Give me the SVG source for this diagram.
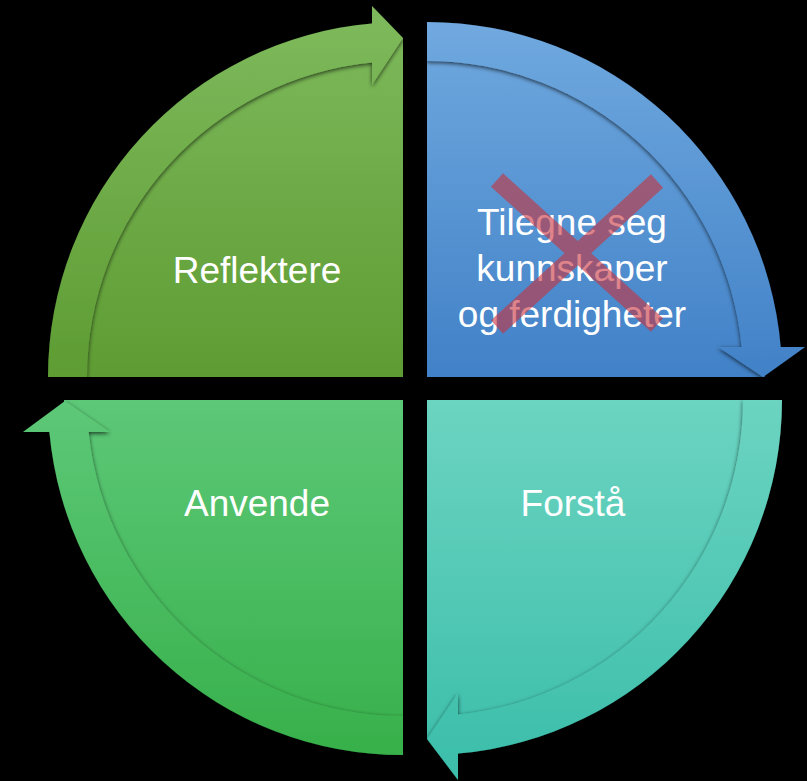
<svg xmlns="http://www.w3.org/2000/svg" width="807" height="781" viewBox="0 0 807 781">
  <defs>
    <linearGradient id="gTL" gradientUnits="userSpaceOnUse" x1="0" y1="20" x2="0" y2="377">
      <stop offset="0" stop-color="#7db95b"/>
      <stop offset="1" stop-color="#5e9c33"/>
    </linearGradient>
    <linearGradient id="gTR" gradientUnits="userSpaceOnUse" x1="0" y1="22" x2="0" y2="377">
      <stop offset="0" stop-color="#70a9df"/>
      <stop offset="1" stop-color="#4181c7"/>
    </linearGradient>
    <linearGradient id="gBR" gradientUnits="userSpaceOnUse" x1="0" y1="400" x2="0" y2="757">
      <stop offset="0" stop-color="#6cd4c1"/>
      <stop offset="1" stop-color="#3dbfab"/>
    </linearGradient>
    <linearGradient id="gBL" gradientUnits="userSpaceOnUse" x1="0" y1="400" x2="0" y2="757">
      <stop offset="0" stop-color="#5dc878"/>
      <stop offset="1" stop-color="#37b04a"/>
    </linearGradient>
    <filter id="sh" x="-10%" y="-10%" width="120%" height="120%">
      <feDropShadow dx="0" dy="1.5" stdDeviation="2.2" flood-color="#000" flood-opacity="0.7"/>
    </filter>
  </defs>
  <style>
    .lbl { font-family: "Liberation Sans", Arial, sans-serif; font-size: 37px; fill: #ffffff; text-anchor: middle; }
    .band { filter: url(#sh); }
    .cross { fill: none; stroke: #c8323c; stroke-opacity: 0.6; stroke-width: 18; stroke-linecap: butt; }
  </style>
  <rect x="0" y="0" width="807" height="781" fill="#000000"/>

  <g id="node-reflektere">
    <path d="M403,377 L64,377 A339,339 0 0 1 403,38 Z" fill="url(#gTL)"/>
  </g>
  <g id="node-tilegne">
    <path d="M427,377 L427,39 A338,338 0 0 1 765,377 Z" fill="url(#gTR)"/>
  </g>
  <g id="node-forsta">
    <path d="M427,400 L766,400 A339,339 0 0 1 427,739 Z" fill="url(#gBR)"/>
  </g>
  <g id="node-anvende">
    <path d="M403,400 L403,739 A339,339 0 0 1 64,400 Z" fill="url(#gBL)"/>
  </g>

  <g id="connectors">
    <path class="band" fill="url(#gTL)" d="M48,377 A355,355 0 0 1 372,23.4 L372,6 L403,38 L372,85 L372,62.5 A316,316 0 0 0 87,377 Z"/>
    <path class="band" fill="url(#gTR)" d="M427,22 A355,355 0 0 1 780.7,347 L805,347 L763,377 L718,347 L741.6,347 A316,316 0 0 0 427,61 Z"/>
    <path class="band" fill="url(#gBR)" d="M782,400 A355,355 0 0 1 458,753.6 L458,780 L427,739 L458,693 L458,714.5 A316,316 0 0 0 743,400 Z"/>
    <path class="band" fill="url(#gBL)" d="M403,755 A355,355 0 0 1 49.4,432 L23,432 L65,401 L110,432 L88.6,432 A316,316 0 0 0 403,716 Z"/>
  </g>

  <g id="labels">
    <text class="lbl" x="257" y="283">Reflektere</text>
    <text class="lbl" x="572" y="235">Tilegne seg</text>
    <text class="lbl" x="572" y="281">kunnskaper</text>
    <text class="lbl" x="572" y="327">og ferdigheter</text>
    <text class="lbl" x="573" y="516">Forstå</text>
    <text class="lbl" x="257" y="516">Anvende</text>
  </g>

  <g id="cross-mark">
    <path class="cross" d="M497,180 L657,325 M657,181 L497,327"/>
  </g>
</svg>
